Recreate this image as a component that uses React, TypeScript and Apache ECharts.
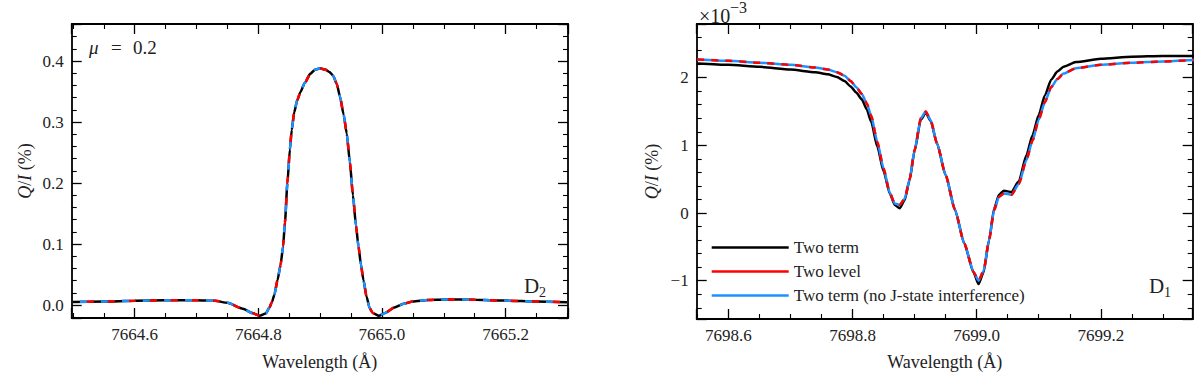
import React, { useEffect, useRef } from 'react';
import * as echarts from 'echarts';

// ---------- D2 panel (left) ----------
const d2Wavelength = [
  7664.5, 7664.55, 7664.6, 7664.65, 7664.7, 7664.73, 7664.75, 7664.775, 7664.79, 7664.802,
  7664.812, 7664.818, 7664.822, 7664.826, 7664.831, 7664.836, 7664.84, 7664.843, 7664.847, 7664.851,
  7664.854, 7664.858, 7664.863, 7664.868, 7664.875, 7664.884, 7664.892, 7664.9, 7664.908, 7664.915,
  7664.921, 7664.927, 7664.932, 7664.938, 7664.943, 7664.948, 7664.953, 7664.958, 7664.962, 7664.966,
  7664.97, 7664.975, 7664.98, 7664.985, 7664.995, 7665.005, 7665.02, 7665.035, 7665.05, 7665.075,
  7665.1, 7665.15, 7665.2, 7665.25, 7665.3,
];
const d2TwoTerm = [
  0.005, 0.0058, 0.0068, 0.0076, 0.008, 0.0068, 0.0035, -0.006, -0.013, -0.0175,
  -0.014, -0.004, 0.005, 0.017, 0.041, 0.066, 0.096, 0.135, 0.2, 0.255,
  0.287, 0.316, 0.336, 0.349, 0.364, 0.379, 0.386, 0.388, 0.386, 0.382,
  0.376, 0.362, 0.342, 0.312, 0.281, 0.235, 0.18, 0.13, 0.096, 0.066,
  0.041, 0.014, -0.005, -0.013, -0.0175, -0.013, -0.004, 0.002, 0.0058, 0.0083,
  0.0092, 0.0086, 0.0072, 0.0058, 0.0045,
];
// the three D2 curves coincide in the figure
const d2TwoLevel = d2TwoTerm;
const d2NoJ = d2TwoTerm;

// ---------- D1 panel (right), values in units of 1e-3 % ----------
const d1Wavelength = [
  7698.55, 7698.6, 7698.65, 7698.7, 7698.74, 7698.76, 7698.775, 7698.787, 7698.797, 7698.806,
  7698.815, 7698.823, 7698.83, 7698.84, 7698.85, 7698.86, 7698.868, 7698.876, 7698.884, 7698.892,
  7698.9, 7698.91, 7698.918, 7698.926, 7698.936, 7698.95, 7698.965, 7698.98, 7698.995, 7699.003,
  7699.011, 7699.02, 7699.028, 7699.036, 7699.044, 7699.056, 7699.068, 7699.08, 7699.09, 7699.1,
  7699.11, 7699.12, 7699.13, 7699.14, 7699.16, 7699.2, 7699.25, 7699.3, 7699.35,
];
const d1TwoTerm = [
  2.21, 2.19, 2.16, 2.12, 2.08, 2.05, 2.01, 1.95, 1.87, 1.78,
  1.68, 1.53, 1.35, 0.98, 0.62, 0.29, 0.12, 0.07, 0.19, 0.49,
  0.92, 1.38, 1.48, 1.36, 1.03, 0.56, 0.05, -0.45, -0.88, -1.05,
  -0.88, -0.4, 0.06, 0.27, 0.33, 0.31, 0.47, 0.85, 1.15, 1.45,
  1.74, 1.97, 2.09, 2.16, 2.23, 2.28, 2.31, 2.32, 2.32,
];
const d1TwoLevel = [
  2.27, 2.25, 2.22, 2.19, 2.15, 2.12, 2.08, 2.03, 1.95, 1.86,
  1.76, 1.62, 1.44, 1.05, 0.66, 0.3, 0.14, 0.12, 0.21, 0.5,
  0.93, 1.4, 1.5, 1.37, 1.03, 0.56, 0.05, -0.45, -0.87, -1.0,
  -0.86, -0.4, 0.04, 0.24, 0.29, 0.27, 0.43, 0.78, 1.07, 1.38,
  1.64, 1.86, 1.98, 2.06, 2.14, 2.19, 2.22, 2.24, 2.26,
];
const d1NoJ = d1TwoLevel;

const legendNames = ['Two term', 'Two level', 'Two term (no J-state interference)'];

const FONT = 'Liberation Serif, DejaVu Serif, serif';
const BLACK = '#000000';
const RED = '#ff0000';
const BLUE = '#1e90ff';
const TXT = '#222222';

const pairs = (xs: number[], ys: number[]) => xs.map((x, i) => [x, ys[i]]);

function axisBase(min: number, max: number, split: number) {
  return {
    type: 'value' as const,
    min,
    max,
    axisLine: { show: true, onZero: false, lineStyle: { color: '#000', width: 1.8 } },
    axisTick: { show: true, inside: true, length: 10, lineStyle: { color: '#000', width: 1.3 } },
    minorTick: { show: true, splitNumber: split, length: 5, lineStyle: { color: '#000', width: 1.1 } },
    splitLine: { show: false },
    minorSplitLine: { show: false },
  };
}

const labelStyle = {
  fontFamily: FONT,
  fontSize: 17,
  color: TXT,
  margin: 8,
  showMinLabel: false,
  showMaxLabel: false,
};

const nameStyle = { fontFamily: FONT, fontSize: 18, color: TXT };
const yName = '{i|Q}/{i|I} (%)';
const yNameRich = {
  i: { fontFamily: FONT, fontStyle: 'italic', fontSize: 18, color: TXT },
};

const lineSeries = { type: 'line', symbol: 'none', smooth: 0.2, smoothMonotone: 'x' };

export default function App() {
  const ref = useRef<HTMLDivElement>(null);
  useEffect(() => {
    if (!ref.current) return;
    const chart = echarts.init(ref.current, undefined, { renderer: 'svg' });
    const L = { min: 7664.498, max: 7665.301 };
    const R = { min: 7698.549, max: 7699.348 };
    const txt = (text: string, left: number, top: number, size: number, italic = false) => ({
      type: 'text', left, top,
      style: { text, fontFamily: FONT, fontStyle: italic ? 'italic' : 'normal', fontSize: size, fill: TXT },
    });
    const option: any = {
      animation: false,
      backgroundColor: '#fff',
      textStyle: { fontFamily: FONT },
      grid: [
        { left: 71.7, top: 24, width: 496.3, height: 294 },
        { left: 696.7, top: 24, width: 496, height: 295 },
      ],
      xAxis: [
        {
          ...axisBase(L.min, L.max, 4), gridIndex: 0, position: 'bottom',
          axisLabel: { ...labelStyle, formatter: (v: number) => v.toFixed(1) },
          name: 'Wavelength (Å)', nameLocation: 'middle', nameGap: 35, nameTextStyle: nameStyle,
        },
        { ...axisBase(L.min, L.max, 4), gridIndex: 0, position: 'top', axisLabel: { show: false } },
        {
          ...axisBase(R.min, R.max, 4), gridIndex: 1, position: 'bottom',
          axisLabel: { ...labelStyle, formatter: (v: number) => v.toFixed(1) },
          name: 'Wavelength (Å)', nameLocation: 'middle', nameGap: 34, nameTextStyle: nameStyle,
        },
        { ...axisBase(R.min, R.max, 4), gridIndex: 1, position: 'top', axisLabel: { show: false } },
      ],
      yAxis: [
        {
          ...axisBase(-0.0213, 0.4607, 5), gridIndex: 0, position: 'left',
          axisLabel: { ...labelStyle, formatter: (v: number) => (Math.abs(v) < 1e-9 ? '0.0' : v.toFixed(1)) },
          name: yName, nameLocation: 'middle', nameGap: 38, nameRotate: 90,
          nameTextStyle: { ...nameStyle, rich: yNameRich },
        },
        { ...axisBase(-0.0213, 0.4607, 5), gridIndex: 0, position: 'right', axisLabel: { show: false } },
        {
          ...axisBase(-1.566, 2.793, 5), gridIndex: 1, position: 'left',
          axisLabel: {
            ...labelStyle,
            formatter: (v: number) => (v < -1e-9 ? '\u2212' : '') + Math.abs(Math.round(v)).toString(),
          },
          name: yName, nameLocation: 'middle', nameGap: 36, nameRotate: 90,
          nameTextStyle: { ...nameStyle, rich: yNameRich },
        },
        { ...axisBase(-1.566, 2.793, 5), gridIndex: 1, position: 'right', axisLabel: { show: false } },
      ],
      legend: {
        orient: 'vertical',
        left: 711.7,
        top: 239,
        padding: 0,
        icon: 'rect',
        itemWidth: 77,
        itemHeight: 2.6,
        itemGap: 7,
        selectedMode: false,
        data: legendNames,
        textStyle: { fontFamily: FONT, fontSize: 17, color: TXT, lineHeight: 14 },
      },
      series: [
        // left panel
        {
          ...lineSeries, name: 'D2 two term', xAxisIndex: 0, yAxisIndex: 0,
          data: pairs(d2Wavelength, d2TwoTerm), lineStyle: { color: BLACK, width: 2.5 },
        },
        {
          ...lineSeries, name: 'D2 no J', xAxisIndex: 0, yAxisIndex: 0,
          data: pairs(d2Wavelength, d2NoJ),
          lineStyle: { color: BLUE, width: 2.5, type: [7, 14], dashOffset: 14 },
        },
        {
          ...lineSeries, name: 'D2 two level', xAxisIndex: 0, yAxisIndex: 0,
          data: pairs(d2Wavelength, d2TwoLevel),
          lineStyle: { color: RED, width: 2.5, type: [7, 14], dashOffset: 7 },
        },
        // right panel
        {
          ...lineSeries, name: legendNames[0], xAxisIndex: 2, yAxisIndex: 2,
          data: pairs(d1Wavelength, d1TwoTerm), lineStyle: { color: BLACK, width: 2.5 }, itemStyle: { color: BLACK },
        },
        {
          ...lineSeries, name: legendNames[2], xAxisIndex: 2, yAxisIndex: 2,
          data: pairs(d1Wavelength, d1NoJ), lineStyle: { color: BLUE, width: 2.5 }, itemStyle: { color: BLUE },
        },
        {
          ...lineSeries, name: legendNames[1], xAxisIndex: 2, yAxisIndex: 2,
          data: pairs(d1Wavelength, d1TwoLevel),
          lineStyle: { color: RED, width: 2.5, type: [7, 7] }, itemStyle: { color: RED },
        },
      ],
      graphic: [
        txt('μ', 89, 38, 19, true),
        txt('=', 111, 38, 19),
        txt('0.2', 133, 38, 19),
        txt('D', 524, 275, 21),
        txt('2', 539, 285, 14),
        txt('D', 1149, 275, 21),
        txt('1', 1164, 285, 14),
        txt('×10', 699, 6, 20),
        txt('\u22123', 730, -1, 16),
      ],
    };
    chart.setOption(option);
    return () => chart.dispose();
  }, []);
  return (
    <div
      ref={ref}
      style={{ position: 'fixed', left: 0, top: 0, width: 1200, height: 380, background: '#fff' }}
    />
  );
}
